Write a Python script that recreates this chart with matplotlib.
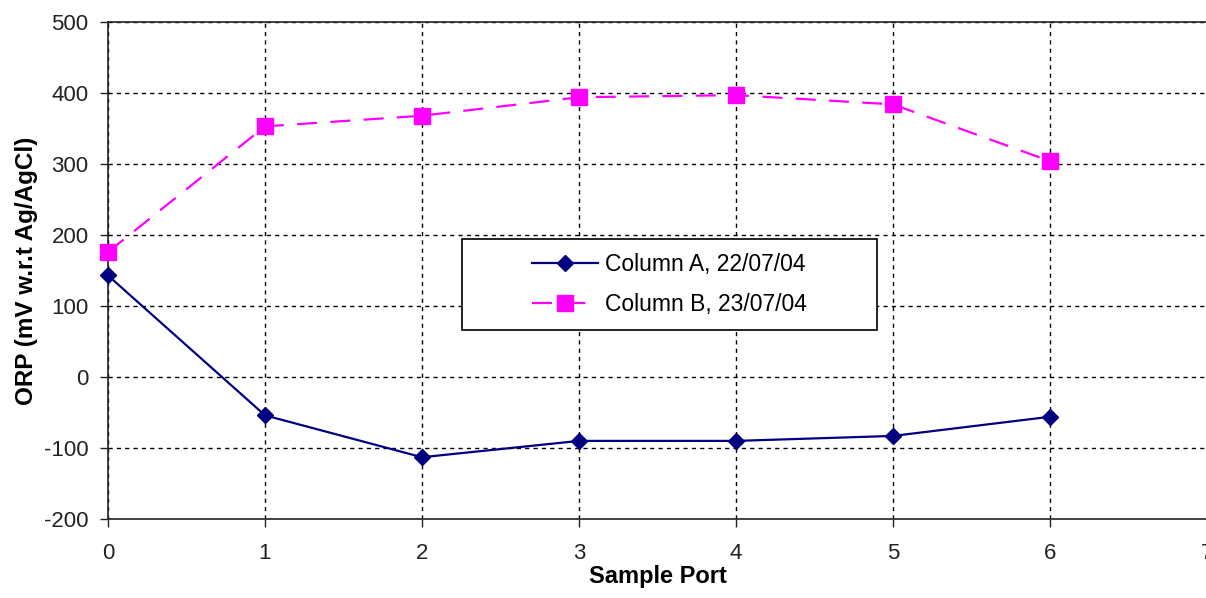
import matplotlib
matplotlib.use('Agg')
import matplotlib.pyplot as plt
from matplotlib.patches import Rectangle

plt.rcParams['font.family'] = ['Liberation Sans', 'DejaVu Sans']
plt.rcParams['axes.unicode_minus'] = False

# Readings per sample port
ports = [0, 1, 2, 3, 4, 5, 6]
column_a = [143, -54, -113, -90, -90, -83, -56]
column_b = [176, 353, 368, 394, 397, 384, 304]
label_a = 'Column A, 22/07/04'
label_b = 'Column B, 23/07/04'

fig = plt.figure(figsize=(12.06, 5.98), dpi=100)
ax = fig.add_axes([108 / 1206, 79 / 598, 1099 / 1206, 497 / 598])

ax.plot(ports, column_a, color='#000080', lw=1.6, marker='D', markersize=8.5,
        label=label_a, zorder=3, clip_on=False)
ax.plot(ports, column_b, color='#FF00FF', lw=1.6, linestyle=(0, (9, 6)),
        marker='s', markersize=11, label=label_b, zorder=3, clip_on=False)

ax.set_xlim(0, 7)
ax.set_ylim(-200, 500)
ax.set_xticks(range(0, 8))
ax.set_yticks(range(-200, 501, 100))

ax.grid(True, color='black', linestyle=(0, (3, 3)), linewidth=1.0)
ax.set_axisbelow(True)

for side in ['left', 'bottom', 'top']:
    ax.spines[side].set_linewidth(1.2)
    ax.spines[side].set_color('#222222')
ax.spines['right'].set_visible(False)

ax.tick_params(direction='out', length=6, width=1, labelsize=16,
               colors='#222222')
ax.tick_params(axis='y', pad=8)
ax.tick_params(axis='x', pad=11)

ax.set_xlabel('Sample Port', fontsize=17, fontweight='bold', labelpad=1)
ax.set_ylabel('ORP (mV w.r.t Ag/AgCl)', fontsize=17.5, fontweight='bold', labelpad=4)

# legend frame is wider than its contents, as in the spreadsheet original
frame = Rectangle((0.3221, 0.3803), 0.3776, 0.1831, transform=ax.transAxes,
                  facecolor='white', edgecolor='black', linewidth=1.2, zorder=4)
ax.add_patch(frame)
leg = ax.legend(loc='center', bbox_to_anchor=(0.511, 0.472), fontsize=16.5,
                frameon=False, handlelength=2.9, handletextpad=0.3,
                labelspacing=0.75, borderaxespad=0)
leg.set_zorder(5)

fig.savefig('out.png', dpi=100)
